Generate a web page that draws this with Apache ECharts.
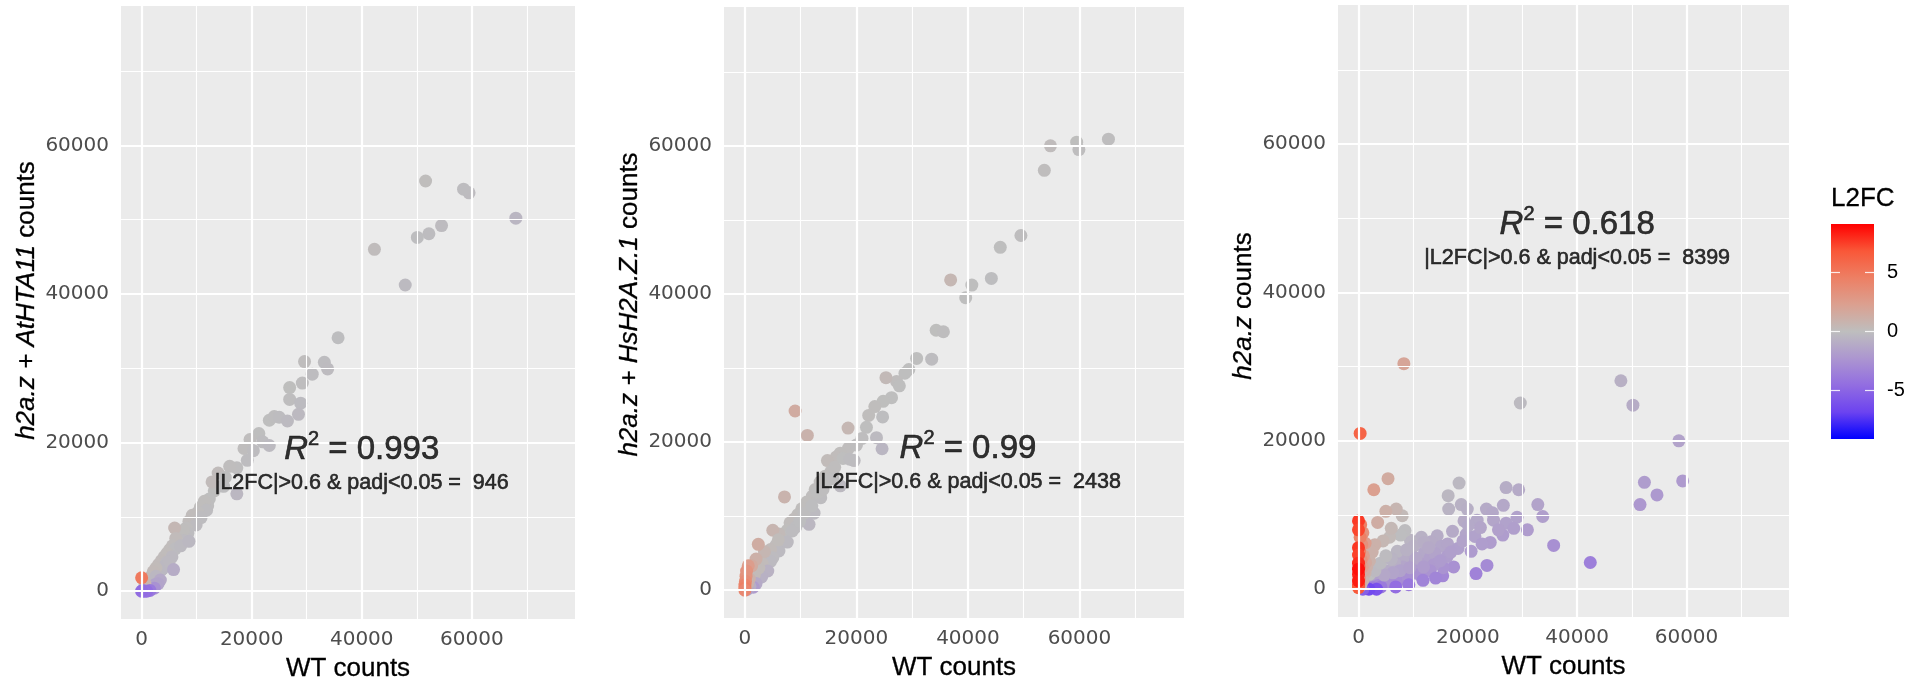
<!DOCTYPE html>
<html>
<head>
<meta charset="utf-8">
<script src="https://cdn.jsdelivr.net/npm/echarts@6/dist/echarts.min.js"></script>
<style>
  html, body { margin: 0; padding: 0; background: #ffffff; }
  #chart { width: 1921px; height: 688px; }
</style>
</head>
<body>
<div id="chart"></div>
<script>
// [WT counts, mutant counts, L2FC]
const hta11Points = [
  [68000, 50200, -0.45], [59500, 53600, -0.15], [58500, 54100, -0.1], [51600, 55200, 0.1], [54500, 49200, -0.15],
  [52200, 48100, -0.12], [50100, 47600, -0.08], [42300, 46000, 0.12], [47900, 41200, -0.22],
  [35700, 34100, -0.07], [29600, 30900, 0.06], [33200, 30800, -0.11], [33800, 29900, -0.18], [31000, 29200, -0.09],
  [29200, 28000, -0.06], [26900, 27400, 0.03], [26900, 25800, -0.06], [28900, 25300, -0.19], [28500, 23800, -0.26],
  [23200, 23000, -0.01], [24100, 23500, -0.04], [25000, 23400, -0.1], [26500, 22900, -0.21], [21300, 21200, 0],
  [19700, 20400, 0.05], [22000, 20100, -0.13], [18600, 19200, 0.05], [23200, 19600, -0.24], [20300, 18900, -0.1],
  [19200, 17600, -0.13], [17300, 16600, -0.06], [16000, 16800, 0.07], [13900, 15900, 0.19], [15200, 15300, 0],
  [17300, 13100, -0.4], [14700, 14200, -0.05], [13200, 13500, 0.03], [12300, 12400, 0.01], [12800, 14700, 0.2],
  [14900, 14100, -0.08], [12000, 11500, -0.06], [11400, 12100, 0.09], [10700, 11300, 0.08], [11800, 10900, -0.12],
  [10200, 10600, 0.05], [9700, 9300, -0.06], [9200, 10200, 0.15], [8600, 9400, 0.13], [9900, 8900, -0.15],
  [10800, 9900, -0.13], [8100, 8500, 0.07], [8400, 7800, -0.1], [7600, 8200, 0.11], [7100, 7500, 0.08],
  [7600, 6800, -0.16], [6600, 6600, 0], [6000, 8500, 0.5], [6200, 7100, 0.2], [5600, 6100, 0.12], [5100, 5600, 0.14],
  [6100, 5700, -0.1], [7100, 6100, -0.22], [8600, 6700, -0.36], [4600, 5100, 0.15], [4100, 4600, 0.17],
  [3600, 4100, 0.19], [3100, 3600, 0.21], [4600, 3900, -0.24], [5500, 4600, -0.26], [3600, 2900, -0.31],
  [3800, 3000, -0.33], [4300, 3400, -0.35], [5000, 4000, -0.3], [2600, 3100, 0.25], [2100, 2600, 0.3],
  [1600, 1900, 0.25], [2600, 2000, -0.38], [5800, 2900, -1.0], [3400, 1500, -1.2], [3000, 1000, -1.5],
  [2500, 900, -1.5], [1500, 500, -1.9], [1200, 600, -1.0], [1000, 200, -2.6], [2300, 400, -2.5], [600, 1000, 0.7],
  [1500, 100, -3.9], [200, 100, -4.3], [900, 0, -4.5], [400, 0, -4.4], [0, 0, -4.6], [0, 1800, 4.9]
];

const hsh2az1Points = [
  [65200, 60900, -0.05], [59500, 60500, 0.03], [59900, 59500, -0.04], [54800, 60000, 0.12], [53700, 56700, 0.06],
  [49500, 47900, -0.05], [45800, 46300, 0.01], [44200, 42100, -0.07], [40700, 41200, 0.01], [39600, 39500, -0.02],
  [36900, 41900, 0.55], [34300, 35100, 0.03], [35600, 34900, -0.04], [30800, 31300, 0.02], [33500, 31200, -0.1],
  [29400, 29800, 0.01], [28700, 29300, 0.02], [27200, 28200, 0.05], [27700, 27600, 0], [25300, 28700, 0.35],
  [26300, 26000, -0.02], [24800, 25500, 0.03], [23300, 24800, 0.08], [22200, 23600, 0.08], [24700, 23400, -0.08],
  [21800, 22000, 0.01], [18500, 21900, 0.55], [23600, 20600, -0.2], [21000, 20500, -0.03], [24600, 19100, -0.45],
  [18600, 19200, 0.04], [17100, 18500, 0.11], [16400, 18000, 0.13], [14800, 17500, 0.24], [19600, 17500, -0.16],
  [17600, 17800, 0.02], [16100, 16600, 0.04], [15400, 16000, 0.06], [14400, 15400, 0.09], [17100, 14100, -0.28],
  [13500, 14600, 0.11], [12600, 13600, 0.11], [12100, 12700, 0.07], [13600, 12500, -0.12], [11100, 11900, 0.1],
  [10200, 11000, 0.11], [9500, 10200, 0.1], [11100, 10100, -0.14], [12400, 10400, -0.25], [8800, 9600, 0.13],
  [8100, 9100, 0.17], [9100, 8500, -0.1], [11500, 8900, -0.37], [7600, 8100, 0.09], [7100, 7200, 0.02],
  [8500, 8000, -0.09], [9800, 9300, -0.08], [10600, 10400, -0.03], [12000, 11400, -0.07], [13000, 13200, 0.02],
  [14000, 13600, -0.04], [15000, 14900, -0.01], [15800, 15100, -0.06], [18800, 17700, -0.09], [20000, 19600, -0.03],
  [6100, 7600, 0.32], [5000, 8100, 0.7], [6600, 6500, -0.02], [7600, 6500, -0.23], [5600, 6100, 0.12],
  [6100, 5300, -0.2], [4600, 5500, 0.26], [6000, 6800, 0.18], [5000, 4400, -0.18], [3800, 4300, 0.18],
  [4600, 3900, -0.24], [3100, 3600, 0.22], [4100, 2600, -0.66], [2600, 1900, -0.45], [3000, 1800, -0.74],
  [2500, 3000, 0.26], [1700, 2100, 0.3], [1200, 1000, -0.26], [2000, 900, -1.15], [1500, 400, -1.9],
  [900, 500, -0.85], [400, 100, -1.5], [7100, 12600, 0.83], [9000, 24200, 1.43], [11200, 20900, 0.9],
  [3500, 5200, 0.57], [2400, 6200, 1.37], [2000, 4200, 1.07], [1200, 3300, 1.46], [800, 1500, 0.9],
  [500, 900, 0.85], [600, 3300, 2.46], [300, 2600, 3.1], [200, 1900, 3.2], [100, 1200, 3.6], [0, 700, 4.2],
  [0, 300, 4.5], [0, 0, 3.9]
];

const h2azPoints = [
  [48000, 28100, -0.78], [29600, 25100, -0.24], [50200, 24800, -1.02], [58600, 20000, -1.55], [59300, 14600, -2.02],
  [52300, 14400, -1.86], [54600, 12700, -2.1], [51500, 11400, -2.18], [8300, 30400, 1.87],
  [18400, 14300, -0.36], [16400, 12600, -0.38], [16500, 10800, -0.61], [18800, 11400, -0.72], [19900, 10800, -0.88],
  [27000, 13700, -0.98], [29300, 13400, -1.13], [26500, 11300, -1.23], [23400, 10800, -1.11], [24500, 10300, -1.25],
  [32800, 11400, -1.52], [33700, 9800, -1.78], [29000, 9700, -1.58], [27000, 8900, -1.6], [24700, 9300, -1.41],
  [30900, 8000, -1.95], [28400, 8200, -1.79], [26400, 7300, -1.85], [24100, 6300, -1.94], [21700, 9300, -1.22],
  [19300, 9200, -1.07], [19700, 7400, -1.41], [21300, 7100, -1.58], [20100, 8600, -1.22], [22300, 8300, -1.43],
  [25600, 8000, -1.68], [22600, 6100, -1.89], [20600, 5100, -2.01], [35700, 5900, -2.6], [42400, 3600, -3.56],
  [21500, 2100, -3.36], [23500, 3200, -2.88], [17400, 3000, -2.54], [15400, 1800, -3.1], [15500, 2900, -2.42],
  [12600, 3700, -1.77], [17200, 7800, -1.14], [14400, 7200, -1.0], [13300, 6400, -1.06], [15200, 5800, -1.39],
  [16300, 6100, -1.42], [18200, 5500, -1.73], [19100, 6500, -1.55], [11500, 7000, -0.72], [9500, 6600, -0.53],
  [10100, 5800, -0.8], [12100, 5000, -1.27], [9100, 4500, -1.02], [11100, 3500, -1.66], [13100, 4200, -1.64],
  [12000, 6300, -0.93], [14000, 4800, -1.54], [16200, 4400, -1.88], [13800, 3300, -2.06], [9800, 3400, -1.53],
  [8100, 4000, -1.02], [7100, 5100, -0.48], [6100, 4100, -0.57], [8100, 3000, -1.43], [6600, 3500, -0.92],
  [5100, 2500, -1.03], [4100, 1500, -1.45], [3100, 900, -1.78], [2100, 500, -2.07], [10100, 2500, -2.01],
  [8100, 2000, -2.02], [6100, 1500, -2.02], [5100, 800, -2.67], [3600, 500, -2.85], [7100, 1000, -2.83],
  [9100, 1500, -2.6], [11100, 2000, -2.47], [13100, 2500, -2.39], [14100, 1500, -3.23], [11800, 1200, -3.3],
  [9200, 600, -3.9], [6800, 300, -4.5], [4100, 300, -3.77], [2600, 200, -3.7], [1600, 100, -4.0],
  [10500, 4200, -1.3], [11900, 3000, -1.95], [7600, 2500, -1.6], [6300, 2200, -1.5], [4700, 1900, -1.3],
  [9400, 2900, -1.7], [12800, 5600, -1.2], [14900, 3800, -1.97], [16900, 5000, -1.75], [8800, 5300, -0.73],
  [3300, 0, -6.0], [1900, 0, -6.5], [800, 0, -5.2],
  [2000, 2000, 0.0], [3000, 2500, -0.26], [4000, 3500, -0.19], [6000, 4000, -0.58], [5000, 4500, -0.15],
  [8500, 7900, -0.11], [7700, 7300, -0.08], [5700, 7000, 0.3], [6000, 8200, 0.45], [8000, 9900, 0.31],
  [6900, 10800, 0.65], [5000, 10500, 1.07], [4500, 6500, 0.53], [3500, 9000, 1.36], [3000, 6000, 1.0],
  [2500, 5000, 1.0], [2000, 3800, 0.93], [1200, 2200, 0.87], [1500, 3000, 1.0], [5400, 14900, 1.46],
  [2800, 13400, 2.26], [400, 500, 0.3], [800, 1200, 0.6], [1000, 2500, 1.3], [1300, 3600, 1.5],
  [700, 3000, 2.1], [900, 4500, 2.3], [1200, 6200, 2.4], [600, 6000, 3.3], [800, 7600, 3.2],
  [300, 1000, 1.7], [100, 400, 2.0], [300, 4000, 3.7], [200, 3000, 3.9], [100, 1500, 3.9],
  [500, 4000, 3.0], [400, 8700, 4.4], [300, 7000, 4.5], [200, 5000, 4.6],
  [300, 21000, 6.1], [0, 9200, 7.6], [0, 8000, 7.3], [0, 5600, 7.7], [0, 4600, 7.4], [0, 3500, 8.0],
  [0, 600, 7.6], [0, 200, 6.7], [0, 2000, 8.2], [0, 1100, 8.4], [0, 2700, 8.7]
];

const yTitles = ['{i|h2a.z + AtHTA11} counts', '{i|h2a.z + HsH2A.Z.1} counts', '{i|h2a.z} counts'];
const rSquared = ['0.993', '0.99', '0.618'];
const sigCounts = [946, 2438, 8399];
const axisLimits = [0, 75000];
const majorBreaks = [0, 20000, 40000, 60000];
const minorBreaks = [10000, 30000, 50000, 70000];
const l2fcLimits = [-9.1, 9.1];
const l2fcBreaks = [-5, 0, 5];

const FONT = 'Liberation Sans';
const TICK_FONT = 'DejaVu Sans';
// blue -> grey -> red, sampled along a Lab ramp like ggplot's gradient2
const l2fcColors = ['#0000FF', '#6C43F0', '#926DE1', '#AC96D0', '#BEBEBE', '#DBA090', '#ED7F64', '#F95738', '#FF0000'];

const panels = [
  { pts: hta11Points, grid: { left: 121, top: 6, width: 454, height: 613 }, rY: 19300, sY: 14600, titleShift: 24 },
  { pts: hsh2az1Points, grid: { left: 724, top: 7, width: 460, height: 611 }, rY: 19300, sY: 14600, titleShift: 16 },
  { pts: h2azPoints, grid: { left: 1338, top: 5, width: 451, height: 612 }, rY: 49400, sY: 44600, titleShift: 10 }
];

const pad = (axisLimits[1] - axisLimits[0]) * 0.05;
const axisMin = axisLimits[0] - pad;
const axisMax = axisLimits[1] + pad;
const labelX = 40000;
const plain = v => String(v);

const grids = [];
const xAxes = [];
const yAxes = [];
const series = [];
const pointSeries = [];

panels.forEach((p, i) => {
  grids.push(Object.assign({ show: true, backgroundColor: '#EBEBEB', borderWidth: 0 }, p.grid));

  xAxes.push({
    gridIndex: i, type: 'value', min: axisMin, max: axisMax,
    axisLine: { show: false },
    axisTick: { show: true, customValues: majorBreaks, length: 7, lineStyle: { color: '#333333', width: 1.6 } },
    axisLabel: { customValues: majorBreaks, formatter: plain, color: '#4D4D4D', fontSize: 20, margin: 11, fontFamily: TICK_FONT },
    splitLine: { show: false },
    name: 'WT counts', nameLocation: 'middle', nameGap: 37,
    nameTextStyle: { fontSize: 26, color: '#000000', fontFamily: FONT, textBorderColor: '#000000', textBorderWidth: 0.3 }
  });

  yAxes.push({
    gridIndex: i, type: 'value', min: axisMin, max: axisMax,
    axisLine: { show: false },
    axisTick: { show: true, customValues: majorBreaks, length: 7, lineStyle: { color: '#333333', width: 1.6 } },
    axisLabel: { customValues: majorBreaks, formatter: plain, color: '#4D4D4D', fontSize: 20, margin: 12, fontFamily: TICK_FONT },
    splitLine: { show: false },
    name: yTitles[i], nameLocation: 'middle', nameGap: 81, nameRotate: 90,
    nameTextStyle: {
      fontSize: 26, color: '#000000', fontFamily: FONT, padding: [0, 0, 0, p.titleShift],
      textBorderColor: '#000000', textBorderWidth: 0.3,
      rich: { i: { fontSize: 26, color: '#000000', fontStyle: 'italic', fontFamily: FONT, textBorderColor: '#000000', textBorderWidth: 0.3 } }
    }
  });

  // panel grid lines
  series.push({
    type: 'scatter', xAxisIndex: i, yAxisIndex: i, data: [], z: 1, silent: true,
    markLine: {
      silent: true, animation: false, symbol: ['none', 'none'], label: { show: false },
      lineStyle: { color: '#FFFFFF', type: 'solid' },
      emphasis: { disabled: true },
      data: [].concat(
        minorBreaks.map(v => ({ xAxis: v, lineStyle: { width: 1.1 } })),
        minorBreaks.map(v => ({ yAxis: v, lineStyle: { width: 1.1 } })),
        majorBreaks.map(v => ({ xAxis: v, lineStyle: { width: 2.2 } })),
        majorBreaks.map(v => ({ yAxis: v, lineStyle: { width: 2.2 } }))
      )
    }
  });

  pointSeries.push(series.length);
  series.push({
    type: 'scatter', xAxisIndex: i, yAxisIndex: i, data: p.pts, symbolSize: 13, z: 3, silent: true,
    itemStyle: { opacity: 1 }
  });

  const ink = { color: '#000000', fontFamily: FONT, textBorderColor: '#000000', textBorderWidth: 0.6 };
  series.push({
    type: 'scatter', xAxisIndex: i, yAxisIndex: i, data: [[labelX, p.rY]], symbolSize: 1, z: 5, silent: true,
    itemStyle: { color: 'rgba(0,0,0,0)' },
    label: {
      show: true, position: 'inside',
      formatter: '{r|R}{s|2}{n| = ' + rSquared[i] + '}',
      rich: {
        r: Object.assign({ fontSize: 33, lineHeight: 37, fontStyle: 'italic', verticalAlign: 'bottom' }, ink),
        s: Object.assign({ fontSize: 20, lineHeight: 20, verticalAlign: 'top' }, ink),
        n: Object.assign({ fontSize: 33, lineHeight: 37, verticalAlign: 'bottom' }, ink)
      }
    }
  });

  series.push({
    type: 'scatter', xAxisIndex: i, yAxisIndex: i, data: [[labelX, p.sY]], symbolSize: 1, z: 5, silent: true,
    itemStyle: { color: 'rgba(0,0,0,0)' },
    label: Object.assign({
      show: true, position: 'inside',
      formatter: '|L2FC|>0.6 & padj<0.05 =  ' + sigCounts[i],
      fontSize: 21.5
    }, ink)
  });
});

// colour bar legend
grids.push({ left: 1831, top: 224, width: 43, height: 215, show: false });
xAxes.push({ gridIndex: 3, type: 'value', min: 0, max: 1, show: false });
yAxes.push({
  gridIndex: 3, type: 'value', min: l2fcLimits[0], max: l2fcLimits[1], position: 'left', z: 10,
  axisLine: { show: false },
  axisTick: { show: true, inside: true, length: 9, customValues: l2fcBreaks, lineStyle: { color: 'rgba(255,255,255,0.85)', width: 1.2 } },
  axisLabel: { show: false },
  splitLine: { show: false },
  name: 'L2FC', nameLocation: 'end', nameGap: 12,
  nameTextStyle: { fontSize: 26, color: '#000000', fontFamily: FONT, align: 'left', verticalAlign: 'bottom', textBorderColor: '#000000', textBorderWidth: 0.3 }
});
yAxes.push({
  gridIndex: 3, type: 'value', min: l2fcLimits[0], max: l2fcLimits[1], position: 'right', z: 10,
  axisLine: { show: false },
  axisTick: { show: true, inside: true, length: 9, customValues: l2fcBreaks, lineStyle: { color: 'rgba(255,255,255,0.85)', width: 1.2 } },
  axisLabel: { customValues: l2fcBreaks, color: '#000000', fontSize: 20, margin: 13, fontFamily: FONT },
  splitLine: { show: false }
});
series.push({
  type: 'custom', xAxisIndex: 3, yAxisIndex: 3, silent: true, z: 2,
  data: [[0, l2fcLimits[0], 1, l2fcLimits[1]]],
  renderItem: (params, api) => {
    const tl = api.coord([api.value(0), api.value(3)]);
    const br = api.coord([api.value(2), api.value(1)]);
    const stops = l2fcColors.slice().reverse().map((c, k, arr) => ({ offset: k / (arr.length - 1), color: c }));
    return {
      type: 'rect',
      shape: { x: tl[0], y: tl[1], width: br[0] - tl[0], height: br[1] - tl[1] },
      style: { fill: { type: 'linear', x: 0, y: 0, x2: 0, y2: 1, colorStops: stops } }
    };
  }
});

const chart = echarts.init(document.getElementById('chart'));
chart.setOption({
  animation: false,
  backgroundColor: '#FFFFFF',
  textStyle: { fontFamily: FONT },
  grid: grids,
  xAxis: xAxes,
  yAxis: yAxes,
  visualMap: {
    type: 'continuous', show: false, dimension: 2, seriesIndex: pointSeries,
    min: l2fcLimits[0], max: l2fcLimits[1],
    inRange: { color: l2fcColors }
  },
  series: series
});
</script>
</body>
</html>
